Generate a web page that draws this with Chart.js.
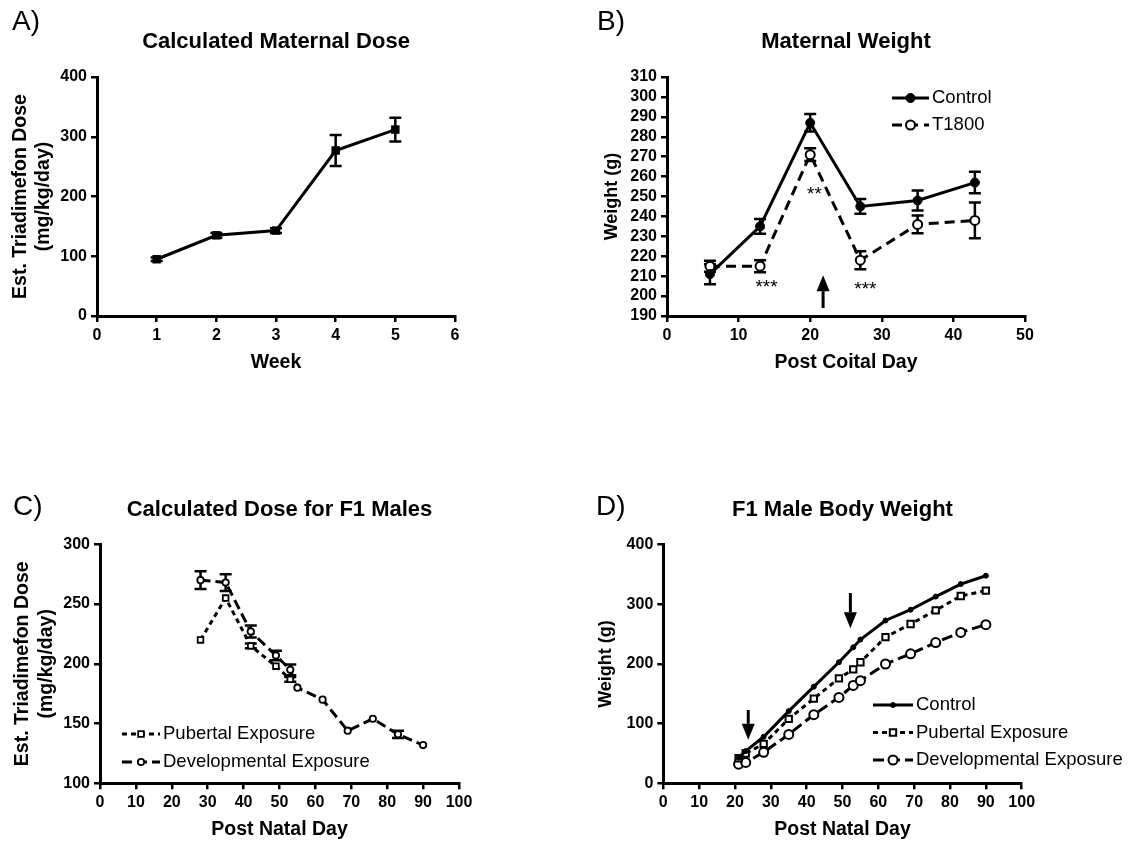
<!DOCTYPE html>
<html>
<head>
<meta charset="utf-8">
<title>Triadimefon dose and body weight</title>
<script src="https://cdn.jsdelivr.net/npm/chart.js@4.4.0/dist/chart.umd.min.js"></script>
<style>
    body { margin: 0; background: #fff; }
    canvas { position: absolute; }
</style>
</head>
<body>
<canvas id="chartA" width="565" height="422" style="left:0;top:0"></canvas>
<canvas id="chartB" width="565" height="422" style="left:565px;top:0"></canvas>
<canvas id="chartC" width="565" height="422" style="left:0;top:422px"></canvas>
<canvas id="chartD" width="565" height="422" style="left:565px;top:422px"></canvas>
<script>
// A) Calculated Maternal Dose
var weeks = [1, 2, 3, 4, 5];
var maternalDose = [95, 135, 143, 277, 312];
var maternalDoseErr = [3, 4, 4, 26, 20];

// B) Maternal Weight
var coitalDays = [6, 13, 20, 27, 35, 43];
var controlWeight = [211, 235, 287, 245, 248, 257];
var controlWeightErr = [5, 3.7, 4.4, 3.7, 5, 5.4];
var t1800Weight = [215, 215, 271, 218, 236, 238];
var t1800WeightErr = [2.8, 3, 3.2, 4.5, 4.5, 9];
var starLabels = ['***', '**', '***'];
var starDays = [13.9, 20.6, 27.7];
var starValues = [204, 251, 203];
var arrowDaysB = [21.8];
var arrowFromB = [194];
var arrowToB = [210.5];

// C) Calculated Dose for F1 Males
var pubertalDays = [28, 35, 42, 49, 53];
var pubertalDose = [220, 255, 215, 198, 187];
var pubertalDoseErr = [0, 0, 2, 0, 2];
var developmentalDays = [28, 35, 42, 49, 53, 55, 62, 69, 76, 83, 90];
var developmentalDose = [270, 268, 227, 207, 195, 180, 170, 144, 154, 141, 132];
var developmentalDoseErr = [7.5, 7, 5, 4, 4.5, 0, 0, 0, 0, 3, 0];

// D) F1 Male Body Weight
var natalDays = [21, 23, 28, 35, 42, 49, 53, 55, 62, 69, 76, 83, 90];
var controlBody = [43, 54, 78, 121, 162, 203, 228, 241, 273, 291, 313, 334, 348];
var pubertalBody = [42, 50, 66, 108, 142, 176, 191, 203, 245, 267, 290, 314, 323];
var developmentalBody = [32, 35, 52, 82, 115, 144, 164, 172, 200, 217, 236, 253, 266];
var arrowDaysD = [23.7, 52.2];
var arrowFromD = [123, 319];
var arrowToD = [73, 260];

Chart.defaults.font.family = '"Liberation Sans", Arial, Helvetica, sans-serif';
Chart.defaults.color = '#000';

function points(xs, ys)
{
    return xs.map(function(x, i) { return {x: x, y: ys[i]}; });
}

function makeAxis(min, max, step, title, boxSize, isX)
{
    return {
        type: 'linear',
        min: min,
        max: max,
        ticks: {
            stepSize: step,
            autoSkip: false,
            maxRotation: 0,
            padding: 4,
            color: '#000',
            font: {size: 16, weight: 'bold'}
        },
        grid: {drawOnChartArea: false, drawTicks: true, tickLength: 6, color: '#000', lineWidth: 2.5},
        border: {display: true, color: '#000', width: 3},
        title: {
            display: true,
            text: title.text,
            color: '#000',
            font: {size: title.size, weight: 'bold', lineHeight: title.lineHeight},
            padding: title.padding
        },
        afterFit: function(scale) {
            if (isX)
                scale.height = boxSize;
            else
                scale.width = boxSize;
        }
    };
}

function drawArrow(ctx, x, yTail, yHead)
{
    var dir = yHead > yTail ? 1 : -1;
    var headLen = 16, headHalf = 6.5;
    ctx.beginPath();
    ctx.moveTo(x, yTail);
    ctx.lineTo(x, yHead - dir * headLen);
    ctx.stroke();
    ctx.beginPath();
    ctx.moveTo(x, yHead);
    ctx.lineTo(x - headHalf, yHead - dir * headLen);
    ctx.lineTo(x + headHalf, yHead - dir * headLen);
    ctx.closePath();
    ctx.fill();
}

// error bars, panel letter, legend and marks drawn on top of the chart
function decorations(extra)
{
    return {
        id: 'decor',
        beforeDatasetsDraw: function(chart) {
            var ctx = chart.ctx, xs = chart.scales.x, ys = chart.scales.y;
            chart.data.datasets.forEach(function(ds) {
                if (!ds.errors)
                    return;
                ctx.save();
                ctx.strokeStyle = '#000';
                ctx.lineWidth = 2.5;
                ds.data.forEach(function(p, i) {
                    var e = ds.errors[i];
                    if (!e)
                        return;
                    var px = xs.getPixelForValue(p.x);
                    var top = ys.getPixelForValue(p.y + e);
                    var bot = ys.getPixelForValue(p.y - e);
                    ctx.beginPath();
                    ctx.moveTo(px, top); ctx.lineTo(px, bot);
                    ctx.moveTo(px - 6, top); ctx.lineTo(px + 6, top);
                    ctx.moveTo(px - 6, bot); ctx.lineTo(px + 6, bot);
                    ctx.stroke();
                });
                ctx.restore();
            });
        },
        afterDraw: function(chart) {
            var ctx = chart.ctx, xs = chart.scales.x, ys = chart.scales.y;
            ctx.save();
            ctx.fillStyle = '#000';
            ctx.strokeStyle = '#000';
            ctx.textBaseline = 'middle';
            ctx.textAlign = 'left';
            ctx.font = '28px "Liberation Sans", Arial, sans-serif';
            ctx.fillText(extra.letter, extra.letterX, extra.letterY);

            if (extra.legend)
            {
                var leg = extra.legend;
                ctx.font = leg.size + 'px "Liberation Sans", Arial, sans-serif';
                chart.data.datasets.forEach(function(ds, i) {
                    var y = leg.y + i * leg.gap;
                    ctx.lineWidth = ds.borderWidth;
                    ctx.setLineDash(ds.borderDash || []);
                    ctx.beginPath();
                    ctx.moveTo(leg.x, y);
                    ctx.lineTo(leg.x + leg.len, y);
                    ctx.stroke();
                    ctx.setLineDash([]);
                    ctx.fillStyle = ds.pointBackgroundColor;
                    ctx.lineWidth = ds.pointBorderWidth;
                    Chart.helpers.drawPoint(ctx, {
                        pointStyle: ds.pointStyle, rotation: 0,
                        radius: ds.pointRadius, borderWidth: ds.pointBorderWidth
                    }, leg.x + leg.len / 2, y);
                    ctx.fillStyle = '#000';
                    ctx.fillText(ds.label, leg.x + leg.len + 3, y);
                });
            }

            if (extra.stars)
            {
                ctx.font = '19px "Liberation Sans", Arial, sans-serif';
                ctx.textAlign = 'center';
                extra.stars.labels.forEach(function(s, i) {
                    ctx.fillText(s, xs.getPixelForValue(extra.stars.days[i]), ys.getPixelForValue(extra.stars.values[i]));
                });
            }

            if (extra.arrows)
            {
                ctx.lineWidth = 3;
                extra.arrows.days.forEach(function(d, i) {
                    drawArrow(ctx, xs.getPixelForValue(d),
                        ys.getPixelForValue(extra.arrows.from[i]), ys.getPixelForValue(extra.arrows.to[i]));
                });
            }
            ctx.restore();
        }
    };
}

function createChart(element, datasets, options, extra)
{
    return new Chart(document.getElementById(element), {
        type: 'line',
        data: {datasets: datasets},
        options: options,
        plugins: [decorations(extra)]
    });
}

function panelOptions(title, titlePad, padding, xAxis, yAxis)
{
    return {
        responsive: false,
        animation: false,
        events: [],
        layout: {padding: padding},
        elements: {line: {tension: 0, fill: false}},
        plugins: {
            legend: {display: false},
            tooltip: {enabled: false},
            title: {
                display: true,
                text: title,
                fullSize: false,
                color: '#000',
                font: {size: 22, weight: 'bold', lineHeight: 1.2},
                padding: titlePad
            }
        },
        scales: {x: xAxis, y: yAxis}
    };
}

createChart('chartA', [{
        label: 'Dose',
        data: points(weeks, maternalDose),
        errors: maternalDoseErr,
        borderColor: '#000', borderWidth: 3,
        pointStyle: 'rect', pointRadius: 6,
        pointBackgroundColor: '#000', pointBorderColor: '#000', pointBorderWidth: 0
    }],
    panelOptions('Calculated Maternal Dose', {top: 28.8, bottom: 21.8},
        {left: 0, right: 110, top: 0, bottom: 46},
        makeAxis(0, 6, 1, {text: 'Week', size: 19.5, lineHeight: 1.2, padding: {top: 0, bottom: 2}}, 60, true),
        makeAxis(0, 400, 100, {text: ['Est. Triadimefon Dose', '(mg/kg/day)'], size: 19.5, lineHeight: 1.18, padding: {top: 9.5, bottom: 0}}, 97, false)),
    {letter: 'A)', letterX: 12, letterY: 22});

createChart('chartB', [{
        label: 'Control',
        data: points(coitalDays, controlWeight),
        errors: controlWeightErr,
        borderColor: '#000', borderWidth: 3,
        pointStyle: 'circle', pointRadius: 4.5,
        pointBackgroundColor: '#000', pointBorderColor: '#000', pointBorderWidth: 1
    }, {
        label: 'T1800',
        data: points(coitalDays, t1800Weight),
        errors: t1800WeightErr,
        borderColor: '#000', borderWidth: 3, borderDash: [10, 6],
        pointStyle: 'circle', pointRadius: 4.5,
        pointBackgroundColor: '#fff', pointBorderColor: '#000', pointBorderWidth: 2
    }],
    panelOptions('Maternal Weight', {top: 28.8, bottom: 21.8},
        {left: 0, right: 105, top: 0, bottom: 46},
        makeAxis(0, 50, 10, {text: 'Post Coital Day', size: 19.5, lineHeight: 1.2, padding: {top: 0, bottom: 2}}, 60, true),
        makeAxis(190, 310, 10, {text: 'Weight (g)', size: 18, lineHeight: 1.2, padding: {top: 36.7, bottom: 0}}, 102, false)),
    {
        letter: 'B)', letterX: 32, letterY: 22,
        legend: {x: 327, y: 98, gap: 27, len: 37, size: 18.5},
        stars: {labels: starLabels, days: starDays, values: starValues},
        arrows: {days: arrowDaysB, from: arrowFromB, to: arrowToB}
    });

createChart('chartC', [{
        label: 'Pubertal Exposure',
        data: points(pubertalDays, pubertalDose),
        errors: pubertalDoseErr,
        borderColor: '#000', borderWidth: 3, borderDash: [5, 4],
        pointStyle: 'rect', pointRadius: 4,
        pointBackgroundColor: '#fff', pointBorderColor: '#000', pointBorderWidth: 1.8
    }, {
        label: 'Developmental Exposure',
        data: points(developmentalDays, developmentalDose),
        errors: developmentalDoseErr,
        borderColor: '#000', borderWidth: 3, borderDash: [10, 5],
        pointStyle: 'circle', pointRadius: 3.2,
        pointBackgroundColor: '#fff', pointBorderColor: '#000', pointBorderWidth: 1.8
    }],
    panelOptions('Calculated Dose for F1 Males', {top: 74.3, bottom: 21.6},
        {left: 0, right: 106, top: 0, bottom: 0},
        makeAxis(0, 100, 10, {text: 'Post Natal Day', size: 19.5, lineHeight: 1.2, padding: {top: 0, bottom: 2.3}}, 60.7, true),
        makeAxis(100, 300, 50, {text: ['Est. Triadimefon Dose', '(mg/kg/day)'], size: 19.5, lineHeight: 1.23, padding: {top: 10.5, bottom: 0}}, 100, false)),
    {
        letter: 'C)', letterX: 13, letterY: 85,
        legend: {x: 122, y: 312, gap: 28, len: 38, size: 18.5}
    });

createChart('chartD', [{
        label: 'Control',
        data: points(natalDays, controlBody),
        borderColor: '#000', borderWidth: 3,
        pointStyle: 'circle', pointRadius: 2.5,
        pointBackgroundColor: '#000', pointBorderColor: '#000', pointBorderWidth: 1
    }, {
        label: 'Pubertal Exposure',
        data: points(natalDays, pubertalBody),
        borderColor: '#000', borderWidth: 3, borderDash: [5, 4],
        pointStyle: 'rect', pointRadius: 4.5,
        pointBackgroundColor: '#fff', pointBorderColor: '#000', pointBorderWidth: 2
    }, {
        label: 'Developmental Exposure',
        data: points(natalDays, developmentalBody),
        borderColor: '#000', borderWidth: 3, borderDash: [11, 5],
        pointStyle: 'circle', pointRadius: 4.5,
        pointBackgroundColor: '#fff', pointBorderColor: '#000', pointBorderWidth: 2
    }],
    panelOptions('F1 Male Body Weight', {top: 74.3, bottom: 22},
        {left: 0, right: 108.3, top: 0, bottom: 0},
        makeAxis(0, 100, 10, {text: 'Post Natal Day', size: 19.5, lineHeight: 1.2, padding: {top: 0, bottom: 2.3}}, 60.7, true),
        makeAxis(0, 400, 100, {text: 'Weight (g)', size: 18, lineHeight: 1.2, padding: {top: 30.6, bottom: 0}}, 98.3, false)),
    {
        letter: 'D)', letterX: 31, letterY: 85,
        legend: {x: 308, y: 283, gap: 27.5, len: 40, size: 18.5},
        arrows: {days: arrowDaysD, from: arrowFromD, to: arrowToD}
    });
</script>
</body>
</html>
